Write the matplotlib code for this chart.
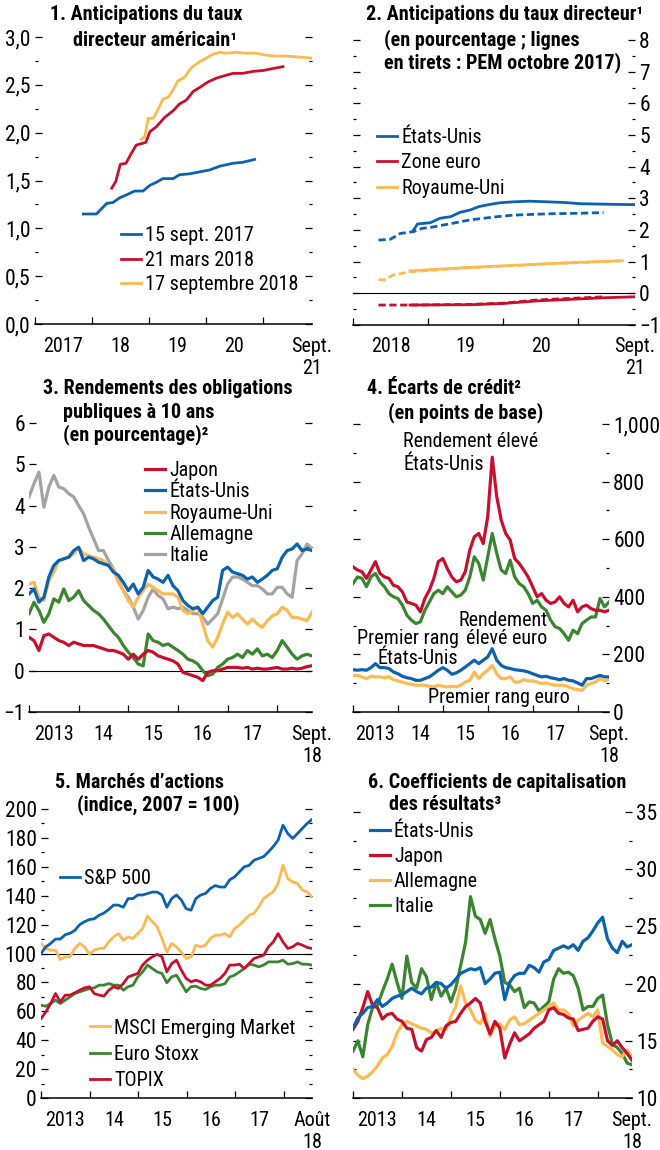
"""Six-panel IMF-style chart: policy rate expectations, yields, spreads, equities, P/E."""

import matplotlib

matplotlib.use("Agg")
import matplotlib.pyplot as plt
import numpy as np
from matplotlib import font_manager
from matplotlib.ticker import FixedFormatter, FixedLocator, FuncFormatter, MultipleLocator, NullFormatter

# ---------------------------------------------------------------- data
# 1. US policy rate expectations (decimal years, percent)
p1_sep17_x = [2017.85, 2018.08, 2018.26, 2018.37, 2018.49, 2018.61, 2018.75, 2018.90, 2019.02, 2019.13,
              2019.25, 2019.43, 2019.54, 2019.72, 2019.89, 2020.07, 2020.25, 2020.48, 2020.65, 2020.86]
p1_sep17_y = [1.15, 1.15, 1.26, 1.27, 1.32, 1.35, 1.39, 1.39, 1.45, 1.48,
              1.52, 1.52, 1.56, 1.57, 1.59, 1.61, 1.65, 1.68, 1.69, 1.72]
p1_mar18_x = [2018.35, 2018.42, 2018.50, 2018.60, 2018.70, 2018.78, 2018.90, 2018.95, 2019.02, 2019.13,
              2019.28, 2019.43, 2019.54, 2019.66, 2019.78, 2019.89, 2020.04, 2020.19, 2020.30, 2020.48,
              2020.65, 2020.83, 2021.01, 2021.18, 2021.36]
p1_mar18_y = [1.42, 1.49, 1.67, 1.68, 1.79, 1.87, 1.89, 1.90, 2.01, 2.06,
              2.16, 2.23, 2.30, 2.34, 2.43, 2.47, 2.53, 2.57, 2.59, 2.62,
              2.62, 2.64, 2.65, 2.67, 2.69]
p1_sep18_x = [2018.87, 2018.93, 2018.99, 2019.08, 2019.16, 2019.25, 2019.34, 2019.43, 2019.51, 2019.63,
              2019.75, 2019.89, 2020.01, 2020.13, 2020.25, 2020.36, 2020.54, 2020.71, 2020.89, 2021.06,
              2021.24, 2021.42, 2021.65, 2021.87]
p1_sep18_y = [1.93, 1.96, 2.15, 2.15, 2.24, 2.35, 2.37, 2.45, 2.54, 2.58,
              2.68, 2.74, 2.78, 2.82, 2.84, 2.83, 2.84, 2.83, 2.83, 2.81,
              2.80, 2.80, 2.79, 2.78]
p1_labels = ["15 sept. 2017", "21 mars 2018", "17 septembre 2018"]

# 2. Policy rate expectations, current (solid) and October 2017 WEO (dashed)
p2_us_x = [2018.80, 2018.86, 2019.03, 2019.16, 2019.30, 2019.43, 2019.56, 2019.68, 2019.83, 2019.96,
           2020.14, 2020.36, 2020.59, 2020.81, 2021.03, 2021.25, 2021.48, 2021.76]
p2_us_y = [1.97, 2.19, 2.23, 2.37, 2.42, 2.56, 2.63, 2.74, 2.81, 2.86,
           2.89, 2.91, 2.89, 2.87, 2.83, 2.82, 2.81, 2.80]
p2_us_weo_x = [2018.34, 2018.50, 2018.63, 2018.81, 2018.92, 2019.03, 2019.21, 2019.39, 2019.56, 2019.74,
               2019.92, 2020.14, 2020.36, 2020.59, 2020.81, 2021.03, 2021.34]
p2_us_weo_y = [1.68, 1.71, 1.89, 1.95, 2.05, 2.08, 2.16, 2.24, 2.32, 2.37,
               2.42, 2.47, 2.49, 2.51, 2.52, 2.53, 2.55]
p2_ea_x = [2018.76, 2019.56, 2020.01, 2020.45, 2020.90, 2021.34, 2021.76]
p2_ea_y = [-0.37, -0.36, -0.32, -0.24, -0.19, -0.14, -0.11]
p2_ea_weo_x = [2018.34, 2018.76, 2019.56, 2020.01, 2020.45, 2020.90, 2021.34]
p2_ea_weo_y = [-0.37, -0.37, -0.35, -0.31, -0.21, -0.16, -0.11]
p2_uk_x = [2018.76, 2019.48, 2020.19, 2020.90, 2021.59]
p2_uk_y = [0.71, 0.81, 0.89, 0.97, 1.03]
p2_uk_weo_x = [2018.34, 2018.41, 2018.54, 2018.76, 2019.48, 2020.19, 2020.90, 2021.56]
p2_uk_weo_y = [0.44, 0.42, 0.58, 0.68, 0.80, 0.88, 0.96, 1.02]
p2_labels = ["États-Unis", "Zone euro", "Royaume-Uni"]

# Sampling dates for the daily series (every 0.1 year, Jan 2013 - Sept 2018)
dates_daily = np.linspace(2013.0, 2018.7, 58)

# 3. 10-year government bond yields (percent)
p3_japon = [0.81, 0.73, 0.49, 0.85, 0.89, 0.81, 0.73, 0.69, 0.61, 0.69,
            0.65, 0.61, 0.61, 0.61, 0.57, 0.53, 0.49, 0.49, 0.45, 0.40,
            0.28, 0.40, 0.28, 0.40, 0.49, 0.45, 0.36, 0.32, 0.28, 0.24,
            0.16, -0.04, -0.08, -0.12, -0.16, -0.24, -0.04, 0.00, 0.00, 0.04,
            0.08, 0.08, 0.08, 0.06, 0.08, 0.04, 0.06, 0.04, 0.04, 0.06,
            0.08, 0.04, 0.04, 0.06, 0.04, 0.06, 0.10, 0.12]
p3_us = [1.86, 1.98, 1.66, 1.78, 2.27, 2.55, 2.67, 2.71, 2.75, 2.91,
         2.99, 2.67, 2.75, 2.71, 2.63, 2.59, 2.55, 2.39, 2.31, 2.14,
         1.94, 2.10, 1.86, 2.02, 2.43, 2.27, 2.22, 2.14, 2.31, 2.06,
         1.94, 1.70, 1.58, 1.50, 1.54, 1.38, 1.54, 1.70, 1.78, 2.43,
         2.51, 2.39, 2.35, 2.31, 2.22, 2.27, 2.14, 2.22, 2.31, 2.43,
         2.47, 2.75, 2.91, 2.95, 3.07, 2.91, 2.95, 2.91]
p3_uk = [2.10, 2.14, 1.78, 1.70, 2.18, 2.39, 2.67, 2.71, 2.75, 2.83,
         2.99, 2.83, 2.79, 2.75, 2.71, 2.67, 2.55, 2.47, 2.14, 1.94,
         1.70, 1.54, 1.78, 1.94, 2.10, 2.02, 1.94, 1.86, 1.86, 1.86,
         1.78, 1.46, 1.38, 1.46, 1.54, 1.13, 0.73, 0.57, 0.81, 1.13,
         1.42, 1.29, 1.38, 1.25, 1.13, 1.25, 1.13, 1.05, 1.21, 1.33,
         1.38, 1.54, 1.46, 1.29, 1.29, 1.25, 1.21, 1.42]
p3_de = [1.38, 1.66, 1.46, 1.17, 1.38, 1.74, 1.66, 1.98, 1.70, 1.78,
         1.94, 1.70, 1.58, 1.46, 1.38, 1.25, 1.09, 0.93, 0.81, 0.61,
         0.45, 0.32, 0.16, 0.12, 0.89, 0.73, 0.69, 0.61, 0.65, 0.57,
         0.49, 0.40, 0.28, 0.24, 0.16, 0.00, -0.12, -0.08, 0.08, 0.16,
         0.28, 0.32, 0.40, 0.32, 0.49, 0.40, 0.53, 0.36, 0.40, 0.32,
         0.49, 0.73, 0.57, 0.40, 0.28, 0.36, 0.40, 0.36]
p3_it = [4.21, 4.53, 4.81, 3.96, 4.45, 4.73, 4.45, 4.41, 4.29, 4.21,
         4.00, 3.80, 3.48, 3.20, 2.91, 2.91, 2.67, 2.47, 2.18, 1.94,
         1.78, 1.54, 1.25, 1.46, 1.78, 1.98, 1.82, 1.74, 1.50, 1.54,
         1.50, 1.54, 1.46, 1.38, 1.38, 1.29, 1.13, 1.25, 1.38, 1.74,
         2.10, 2.27, 2.27, 2.22, 2.14, 2.06, 2.06, 1.98, 1.86, 1.86,
         2.02, 2.02, 1.86, 1.78, 2.67, 2.83, 3.07, 2.95]
p3_labels = ["Japon", "États-Unis", "Royaume-Uni", "Allemagne", "Italie"]

# 4. Credit spreads (basis points)
p4_hy_us = [504, 493, 487, 464, 493, 522, 481, 469, 464, 440,
            435, 417, 382, 377, 371, 348, 394, 423, 464, 522,
            533, 498, 469, 452, 458, 487, 562, 608, 620, 585,
            678, 885, 748, 666, 620, 597, 533, 516, 493, 469,
            435, 400, 411, 388, 377, 382, 400, 377, 365, 388,
            348, 365, 371, 359, 353, 353, 348, 353]
p4_hy_euro = [446, 469, 464, 435, 469, 481, 452, 435, 411, 400,
              394, 371, 336, 319, 307, 313, 353, 382, 411, 423,
              411, 435, 417, 400, 406, 423, 469, 539, 516, 458,
              539, 620, 551, 493, 481, 527, 469, 446, 435, 411,
              377, 388, 365, 353, 319, 296, 290, 272, 249, 284,
              272, 307, 319, 330, 330, 394, 365, 382]
p4_ig_us = [147, 145, 147, 145, 154, 168, 154, 154, 151, 139,
            133, 124, 119, 116, 110, 110, 116, 122, 133, 145,
            154, 145, 131, 136, 145, 156, 168, 180, 168, 180,
            191, 220, 180, 162, 154, 151, 147, 145, 143, 139,
            133, 127, 122, 124, 119, 116, 112, 116, 110, 108,
            101, 93, 116, 116, 122, 127, 122, 122]
p4_ig_euro = [127, 127, 122, 116, 124, 122, 122, 119, 122, 112,
              108, 104, 99, 96, 93, 93, 93, 89, 87, 93,
              89, 87, 89, 87, 93, 104, 110, 139, 116, 133,
              145, 162, 133, 116, 116, 122, 104, 104, 112, 108,
              108, 104, 99, 101, 96, 93, 93, 93, 87, 81,
              78, 75, 93, 99, 104, 116, 108, 112]

# 5. Equity markets (index, 2007 = 100), sampled every 0.1 year to Aug. 2018
dates_monthly = np.linspace(2013.0, 2018.58, 57)
p5_sp500 = [100, 104.6, 107, 110, 110, 113, 114, 116, 120, 122,
            123.5, 124, 126.5, 128, 130.5, 133.5, 133.5, 132, 138, 138,
            140.5, 140.5, 141.5, 142.5, 142.5, 140.5, 132, 138, 140.5, 137,
            131, 130, 138, 140.5, 141.5, 145, 147, 146, 146, 151,
            153, 156.5, 160, 161, 164.5, 165.8, 167, 170.4, 174, 178.5,
            188.8, 183, 179.6, 183, 186.5, 190, 192.8]
p5_msci = [107, 103.5, 102.3, 102.3, 95.8, 97.7, 97.7, 103.5, 107, 104.6,
           99.5, 102.3, 103.5, 103.5, 108, 111.5, 113.8, 109.2, 111.5, 110.4,
           113.8, 117.3, 126, 122, 118.5, 110.4, 101, 107, 104.6, 101,
           96.5, 97.7, 105.8, 104.6, 105.8, 110.4, 112.7, 112.7, 113.8, 111.5,
           117.3, 119.6, 123, 126.5, 127.7, 132.3, 138, 140.5, 142.7, 148.5,
           161.2, 151.8, 149.6, 148.5, 143.8, 142.7, 139.2]
p5_eurostoxx = [64.2, 63.5, 65.4, 67.7, 65.4, 67.7, 70, 72.3, 73.5, 74.6,
                75.8, 76.2, 78.1, 78.1, 79.2, 78.1, 78.1, 74.6, 77, 78.1,
                83.8, 87.3, 92, 89.6, 87.3, 86.2, 79.7, 83.8, 85, 79.2,
                73.5, 77, 77.4, 75.8, 75.1, 77, 78.1, 78.1, 79.2, 83.8,
                85, 87.3, 89.6, 92.6, 92, 90.8, 92, 94.2, 94.2, 94.2,
                95.4, 92.6, 93, 94.2, 92.6, 92.6, 92]
p5_topix = [55, 59.6, 65.4, 72.3, 66.5, 71.2, 71.2, 72.8, 74.6, 76.2,
            77, 72.3, 71.2, 70.5, 74.6, 77, 75.8, 79.2, 83.8, 85,
            86.2, 92, 95.4, 97.7, 99.5, 97.7, 87.3, 93, 95.4, 88.5,
            82.7, 80.4, 81.5, 80.4, 78.1, 78.1, 80.4, 82.7, 86.2, 92,
            92, 92.6, 89.6, 93, 96.5, 97.7, 98.8, 104.6, 108, 113.8,
            108, 103.5, 104.6, 107, 105.8, 104.2, 103.5]

# 6. Price-earnings ratios
p6_us = [16.1, 17.0, 17.4, 17.9, 18.0, 18.6, 18.0, 18.3, 18.7, 18.9,
         19.0, 19.3, 19.6, 19.3, 19.1, 19.6, 19.7, 20.1, 20.0, 19.6,
         19.9, 20.4, 20.9, 21.1, 21.3, 21.2, 21.4, 20.0, 20.4, 20.9,
         21.0, 18.6, 20.1, 20.7, 20.9, 20.9, 21.6, 21.4, 21.0, 21.9,
         22.1, 22.9, 23.1, 23.3, 23.1, 23.4, 22.9, 23.7, 24.0, 24.6,
         25.3, 25.8, 23.9, 23.1, 22.7, 23.7, 23.2, 23.4]
p6_japon = [16.0, 16.7, 17.9, 19.3, 18.1, 17.9, 16.9, 17.3, 17.4, 16.9,
            16.7, 16.1, 16.0, 14.4, 14.1, 15.1, 15.3, 15.9, 15.3, 16.3,
            16.6, 16.7, 17.4, 18.0, 18.3, 18.7, 18.3, 16.7, 15.6, 16.7,
            16.1, 13.5, 14.7, 15.7, 15.0, 15.3, 15.6, 16.1, 16.4, 16.7,
            17.7, 17.9, 17.4, 17.3, 17.0, 16.9, 15.9, 16.0, 16.1, 16.7,
            17.1, 16.9, 15.0, 14.6, 15.0, 14.4, 13.9, 13.3]
p6_de = [12.5, 12.0, 11.7, 11.9, 12.3, 12.8, 13.5, 13.8, 14.5, 15.7,
         16.4, 16.7, 16.5, 16.3, 16.1, 16.0, 15.7, 15.8, 16.1, 16.0,
         17.1, 18.0, 19.8, 18.3, 17.7, 16.8, 16.5, 17.4, 15.4, 16.3,
         16.5, 16.0, 16.8, 17.1, 16.4, 16.5, 16.8, 17.1, 17.4, 17.7,
         18.0, 18.3, 17.7, 17.7, 17.4, 16.3, 16.8, 17.1, 17.4, 17.1,
         17.7, 14.8, 14.5, 14.2, 13.8, 13.6, 14.2, 13.6]
p6_it = [14.1, 15.0, 13.6, 16.4, 17.9, 18.1, 19.3, 20.4, 21.7, 20.1,
         18.7, 22.4, 20.1, 19.6, 21.3, 20.6, 18.6, 20.1, 18.9, 19.6,
         18.4, 19.6, 21.6, 23.6, 27.6, 25.9, 25.6, 24.4, 25.6, 23.9,
         22.4, 20.1, 19.9, 19.3, 19.6, 17.9, 18.4, 18.3, 17.6, 18.0,
         18.4, 20.4, 21.3, 20.9, 21.0, 20.7, 19.6, 17.7, 18.0, 18.0,
         18.7, 19.0, 16.4, 14.7, 14.4, 13.9, 13.05, 12.9]
p6_labels = ["États-Unis", "Japon", "Allemagne", "Italie"]

# ---------------------------------------------------------------- style
BLUE = "#0B63B0"
RED = "#C8102E"
ORANGE = "#FDBA52"
GREEN = "#3A862E"
GRAY = "#A3A3A3"
LW = 2.0
LW_DAILY = 2.3

available = {f.name for f in font_manager.fontManager.ttflist}
FONT, FS = "Liberation Sans", 12.5
for fam in ["Roboto Condensed", "Liberation Sans Narrow", "DejaVu Sans Condensed"]:
    if fam in available:
        FONT, FS = fam, 14.5
        break
plt.rcParams["font.family"] = [FONT, "DejaVu Sans"]
YFS = FS + 1.0  # y tick labels read slightly larger than the rest

W, H = 660, 1150
fig = plt.figure(figsize=(W / 100, H / 100), dpi=100)


def px_axes(left, right, top, bottom):
    """Axes placed by pixel edges (origin top-left)."""
    return fig.add_axes([left / W, 1 - bottom / H, (right - left) / W, (bottom - top) / H])


def title(lines):
    for x, y, s in lines:
        fig.text(x / W, 1 - y / H, s, ha="left", va="center", fontsize=FS, fontweight="bold")


def style(ax, side, ylim, ymajor, yminor, xlim, years, labels, fmt=None):
    ax.set_xlim(*xlim)
    ax.set_ylim(*ylim)
    for s in ("top", "left", "right"):
        ax.spines[s].set_visible(False)
    ax.spines["bottom"].set_linewidth(1.1)
    ax.yaxis.set_major_locator(MultipleLocator(ymajor))
    if yminor:
        ax.yaxis.set_minor_locator(MultipleLocator(yminor))
    if fmt is not None:
        ax.yaxis.set_major_formatter(fmt)
    ax.tick_params(axis="y", which="both", direction="in", left=True, right=True,
                   labelleft=side == "left", labelright=side == "right", width=0.9)
    ax.tick_params(axis="y", which="major", length=5, pad=3, labelsize=YFS)
    ax.tick_params(axis="y", which="minor", length=2.5)
    # year boundaries as ticks, labels centred in each year, end label at the right edge
    ax.xaxis.set_major_locator(FixedLocator(years))
    ax.xaxis.set_major_formatter(NullFormatter())
    label_pos = [y + 0.5 for y in years[:len(labels) - 1]] + [xlim[1]]
    ax.xaxis.set_minor_locator(FixedLocator(label_pos))
    ax.xaxis.set_minor_formatter(FixedFormatter(labels))
    ax.tick_params(axis="x", which="major", direction="in", length=5, width=0.9)
    ax.tick_params(axis="x", which="minor", length=0, pad=9, labelsize=FS)


def legend(ax, handles, labels, x, y, spacing):
    return ax.legend(handles, labels, loc="upper left", bbox_to_anchor=(x, y), frameon=False,
                     borderpad=0, borderaxespad=0, handlelength=1.0, handletextpad=0.2,
                     labelspacing=spacing, fontsize=FS)


comma1 = FuncFormatter(lambda v, _: f"{v:.1f}".replace(".", ","))
thousands = FuncFormatter(lambda v, _: f"{v:,.0f}")

# ---------------------------------------------------------------- panel 1
ax1 = px_axes(35, 312, 37, 324)
l1, = ax1.plot(p1_sep17_x, p1_sep17_y, color=BLUE, lw=LW)
l2, = ax1.plot(p1_mar18_x, p1_mar18_y, color=RED, lw=LW)
l3, = ax1.plot(p1_sep18_x, p1_sep18_y, color=ORANGE, lw=LW)
style(ax1, "left", (0, 3.0), 0.5, 0.25, (2017.0, 2021.87), [2017, 2018, 2019, 2020, 2021],
      ["2017", "18", "19", "20", "Sept.\n21"], comma1)
legend(ax1, [l1, l2, l3], p1_labels, 0.311, 0.341, 0.27)
title([(50, 15, "1. Anticipations du taux"), (73, 40, "directeur américain¹")])

# ---------------------------------------------------------------- panel 2
ax2 = px_axes(353, 635, 40, 325)
ax2.axhline(0, color="black", lw=0.8, zorder=1.5)
dash = (0, (2.6, 1.3))
ax2.plot(p2_us_weo_x, p2_us_weo_y, color=BLUE, lw=LW, ls=dash)
ax2.plot(p2_ea_weo_x, p2_ea_weo_y, color=RED, lw=LW, ls=dash)
ax2.plot(p2_uk_weo_x, p2_uk_weo_y, color=ORANGE, lw=LW, ls=dash)
m1, = ax2.plot(p2_us_x, p2_us_y, color=BLUE, lw=LW)
m2, = ax2.plot(p2_ea_x, p2_ea_y, color=RED, lw=LW)
m3, = ax2.plot(p2_uk_x, p2_uk_y, color=ORANGE, lw=LW)
style(ax2, "right", (-1, 8), 1, 0.5, (2018.0, 2021.76), [2018, 2019, 2020, 2021],
      ["2018", "19", "20", "Sept.\n21"])
legend(ax2, [m1, m2, m3], p2_labels, 0.085, 0.692, 0.32)
title([(366, 15, "2. Anticipations du taux directeur¹"),
       (384, 40, "(en pourcentage ; lignes"),
       (384, 63, "en tirets : PEM octobre 2017)")])

# ---------------------------------------------------------------- panel 3
ax3 = px_axes(29, 312, 423, 712)
ax3.axhline(0, color="black", lw=0.8, zorder=1.5)
h_it, = ax3.plot(dates_daily, p3_it, color=GRAY, lw=LW_DAILY, solid_joinstyle="round")
h_uk, = ax3.plot(dates_daily, p3_uk, color=ORANGE, lw=LW_DAILY, solid_joinstyle="round")
h_de, = ax3.plot(dates_daily, p3_de, color=GREEN, lw=LW_DAILY, solid_joinstyle="round")
h_us, = ax3.plot(dates_daily, p3_us, color=BLUE, lw=LW_DAILY, solid_joinstyle="round")
h_jp, = ax3.plot(dates_daily, p3_japon, color=RED, lw=LW_DAILY, solid_joinstyle="round")
style(ax3, "left", (-1, 6), 1, None, (2013.0, 2018.7), [2013, 2014, 2015, 2016, 2017, 2018],
      ["2013", "14", "15", "16", "17", "Sept.\n18"])
legend(ax3, [h_jp, h_us, h_uk, h_de, h_it], p3_labels, 0.41, 0.868, 0.11)
title([(43, 388, "3. Rendements des obligations"), (63, 412, "publiques à 10 ans"),
       (63, 435, "(en pourcentage)²")])

# ---------------------------------------------------------------- panel 4
ax4 = px_axes(353, 609, 424, 712)
ax4.plot(dates_daily, p4_hy_euro, color=GREEN, lw=LW_DAILY, solid_joinstyle="round")
ax4.plot(dates_daily, p4_hy_us, color=RED, lw=LW_DAILY, solid_joinstyle="round")
ax4.plot(dates_daily, p4_ig_euro, color=ORANGE, lw=LW_DAILY, solid_joinstyle="round")
ax4.plot(dates_daily, p4_ig_us, color=BLUE, lw=LW_DAILY, solid_joinstyle="round")
style(ax4, "right", (0, 1000), 200, 100, (2013.0, 2018.7), [2013, 2014, 2015, 2016, 2017, 2018],
      ["2013", "14", "15", "16", "17", "Sept.\n18"], thousands)
for x, y, s in [(2014.12, 938, "Rendement élevé"), (2014.12, 858, "États-Unis"),
                (2013.10, 256, "Premier rang"), (2013.54, 187, "États-Unis"),
                (2015.34, 319, "Rendement"), (2015.52, 256, "élevé euro"),
                (2014.67, 51, "Premier rang euro")]:
    ax4.text(x, y, s, ha="left", va="center", fontsize=FS)
title([(367, 388, "4. Écarts de crédit²"), (388, 413, "(en points de base)")])

# ---------------------------------------------------------------- panel 5
ax5 = px_axes(41, 312, 809, 1098)
ax5.axhline(100, color="black", lw=0.8, zorder=1.5)
e_ms, = ax5.plot(dates_monthly, p5_msci, color=ORANGE, lw=LW)
e_es, = ax5.plot(dates_monthly, p5_eurostoxx, color=GREEN, lw=LW)
e_tp, = ax5.plot(dates_monthly, p5_topix, color=RED, lw=LW)
e_sp, = ax5.plot(dates_monthly, p5_sp500, color=BLUE, lw=LW)
style(ax5, "left", (0, 200), 20, 10, (2013.0, 2018.58), [2013, 2014, 2015, 2016, 2017, 2018],
      ["2013", "14", "15", "16", "17", "Août\n18"])
leg_sp = legend(ax5, [e_sp], ["S&P 500"], 0.07, 0.793, 0.3)
ax5.add_artist(leg_sp)
legend(ax5, [e_ms, e_es, e_tp], ["MSCI Emerging Market", "Euro Stoxx", "TOPIX"], 0.18, 0.275, 0.35)
title([(55, 782, "5. Marchés d’actions"), (77, 805, "(indice, 2007 = 100)")])

# ---------------------------------------------------------------- panel 6
ax6 = px_axes(353, 632, 812, 1098)
g_it, = ax6.plot(dates_daily, p6_it, color=GREEN, lw=LW_DAILY, solid_joinstyle="round")
g_de, = ax6.plot(dates_daily, p6_de, color=ORANGE, lw=LW_DAILY, solid_joinstyle="round")
g_jp, = ax6.plot(dates_daily, p6_japon, color=RED, lw=LW_DAILY, solid_joinstyle="round")
g_us, = ax6.plot(dates_daily, p6_us, color=BLUE, lw=LW_DAILY, solid_joinstyle="round")
style(ax6, "right", (10, 35), 5, 2.5, (2013.0, 2018.7), [2013, 2014, 2015, 2016, 2017, 2018],
      ["2013", "14", "15", "16", "17", "Sept.\n18"])
legend(ax6, [g_us, g_jp, g_de, g_it], p6_labels, 0.06, 0.965, 0.3)
title([(368, 782, "6. Coefficients de capitalisation"), (389, 805, "des résultats³")])

fig.savefig("out.png", dpi=100)
